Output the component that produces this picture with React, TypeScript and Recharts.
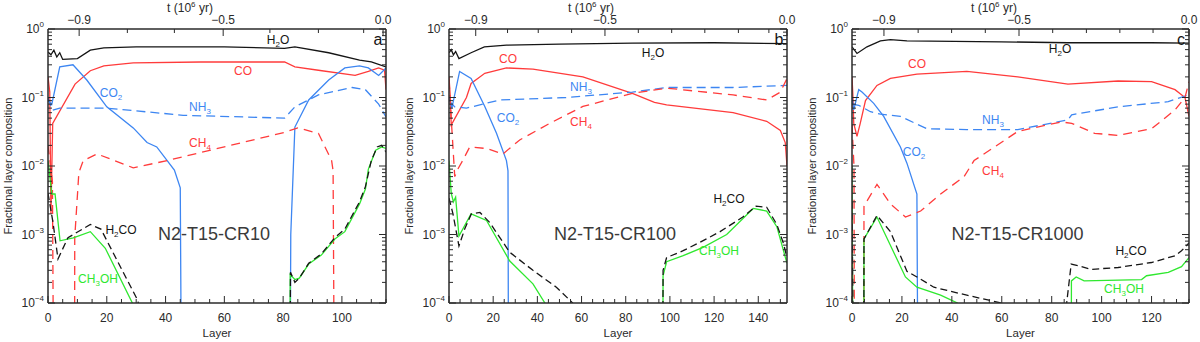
import React from 'react';
import { LineChart, Line, XAxis, YAxis } from 'recharts';

type Pt = [number, number | null];

// value used where a curve falls off the bottom of the plot (below 1e-4)
const FLOOR = 1e-6;

// ---- panel a: N2-T15-CR10 ----
const A_H2O: Pt[] = [[0, 0.46], [1, 0.42], [2, 0.49], [3, 0.39], [4, 0.45], [5, 0.36], [10, 0.37], [14.4, 0.49], [19, 0.53], [30, 0.55], [60, 0.55], [80.5, 0.52], [84, 0.55], [95.5, 0.45], [106, 0.35], [110, 0.33], [115, 0.28]];
const A_CO: Pt[] = [[0, 0.2], [0.6, 0.12], [1, 0.002], [1.6, 0.042], [9.2, 0.157], [14.4, 0.246], [19, 0.29], [29, 0.32], [52, 0.33], [80.5, 0.33], [84, 0.28], [92, 0.25], [104.5, 0.21], [109, 0.24], [112.5, 0.27], [114.5, 0.25], [115, 0.13]];
const A_CO2: Pt[] = [[0, 0.09], [1.3, 0.08], [4, 0.28], [8.5, 0.3], [13.2, 0.18], [20, 0.073], [29, 0.036], [33.7, 0.022], [37, 0.019], [43, 0.0087], [45, 0.0048], [45.5, FLOOR], [46, null], [82.3, FLOOR], [82.6, 0.001], [84, 0.037], [88.7, 0.092], [95.5, 0.18], [101, 0.27], [106, 0.29], [109, 0.27], [112.5, 0.21], [115, 0.27]];
const A_NH3: Pt[] = [[0, 0.1], [1.5, 0.065], [4, 0.07], [20, 0.07], [46, 0.055], [80.5, 0.05], [84, 0.073], [92, 0.109], [103.5, 0.14], [108, 0.13], [112.5, 0.08], [115, 0.052]];
const A_CH4: Pt[] = [[0, 0.02], [1.5, 0.006], [2, FLOOR], [5, null], [9, FLOOR], [9.1, 0.0009], [10.5, 0.008], [12, 0.012], [16.7, 0.015], [29, 0.0094], [40.6, 0.012], [80.5, 0.031], [85, 0.036], [92, 0.03], [96.5, 0.012], [97, 0.0085], [97.5, FLOOR]];
const A_CH3OH: Pt[] = [[0, 0.012], [1.3, 0.0039], [2.4, 0.0039], [4.1, 0.00081], [8.6, 0.00089], [14.4, 0.0011], [19.5, 0.00063], [28.7, 1e-4], [31, 6e-5], [32, null], [82.3, FLOOR], [82.4, 0.00026], [84, 0.00022], [85.5, 0.00023], [88.7, 0.00037], [93, 0.0005], [97.6, 0.00086], [101, 0.0011], [106, 0.0028], [108, 0.0046], [109, 0.009], [111.5, 0.017], [113.5, 0.019], [115, 0.018]];
const A_H2CO: Pt[] = [[0, 0.004], [1.7, 0.0015], [3.4, 0.00044], [6.8, 0.0009], [14.4, 0.0014], [18, 0.0012], [30.5, 1.1e-4], [32, 6e-5], [33, null], [82.3, FLOOR], [82.5, 0.00028], [84, 0.0002], [85.5, 0.00023], [88.7, 0.00038], [93, 0.00052], [97.6, 0.0009], [101, 0.0012], [106, 0.003], [108, 0.005], [110, 0.012], [112, 0.019], [113.5, 0.02], [115, 0.016]];

// ---- panel b: N2-T15-CR100 ----
const B_H2O: Pt[] = [[0, 0.45], [1, 0.5], [2, 0.42], [3, 0.47], [4.5, 0.37], [10, 0.45], [16, 0.55], [26, 0.58], [50, 0.6], [83, 0.62], [120, 0.63], [153, 0.61]];
const B_CO: Pt[] = [[0, 0.2], [0.6, 0.1], [1, 0.04], [1.8, 0.044], [7.9, 0.1], [10, 0.16], [16.2, 0.226], [26, 0.27], [38, 0.26], [60.6, 0.2], [83, 0.115], [93, 0.085], [98.5, 0.078], [128.6, 0.06], [143.8, 0.045], [150, 0.033], [152.2, 0.022], [153, 0.01]];
const B_CO2: Pt[] = [[0, 0.1], [1.3, 0.07], [4.8, 0.24], [10, 0.19], [16.2, 0.074], [21.5, 0.03], [26, 0.012], [26.7, 0.0085], [27, FLOOR]];
const B_NH3: Pt[] = [[0, 0.09], [2.6, 0.073], [7.9, 0.07], [23, 0.092], [53, 0.1], [83, 0.12], [98.5, 0.14], [128.6, 0.14], [153, 0.15]];
const B_CH4: Pt[] = [[0, 0.18], [1, 0.05], [2.6, 0.007], [4, 0.009], [6.2, 0.012], [9.4, 0.019], [17, 0.018], [24.4, 0.015], [32, 0.024], [45.6, 0.042], [60.6, 0.074], [83, 0.115], [98.5, 0.137], [128.6, 0.109], [143.8, 0.092], [150, 0.12], [153, 0.19]];
const B_CH3OH: Pt[] = [[0, 0.012], [1, 0.004], [2, 0.003], [3, 0.0035], [4.5, 0.00095], [10, 0.002], [17, 0.0016], [27.5, 0.00041], [38, 0.00019], [43.4, 1e-4], [45, 7e-5], [46, null], [96.7, FLOOR], [96.9, 0.00025], [98.5, 0.0004], [106, 0.00049], [115, 0.00065], [125.7, 0.001], [137.7, 0.0024], [143.8, 0.0022], [148.4, 0.0013], [153, 0.00038]];
const B_H2CO: Pt[] = [[0, 0.0034], [1.8, 0.002], [4.5, 0.00068], [7.1, 0.0012], [10.1, 0.002], [14, 0.0021], [18.4, 0.0015], [27.5, 0.00055], [38, 0.0003], [48.6, 0.00017], [56, 1e-4], [57, 8e-5], [58, null], [96.7, FLOOR], [96.9, 0.0003], [98.5, 0.00046], [106, 0.00058], [113.6, 0.00077], [122.7, 0.0011], [133, 0.0018], [139, 0.0026], [143.8, 0.0025], [148.4, 0.0014], [151.4, 0.00074], [153, 0.00046]];

// ---- panel c: N2-T15-CR1000 ----
const C_H2O: Pt[] = [[0, 0.55], [2, 0.44], [6, 0.55], [11.4, 0.67], [15.4, 0.7], [22, 0.67], [59.7, 0.65], [86.5, 0.63], [120, 0.63], [135, 0.62]];
const C_CO: Pt[] = [[0, 0.2], [0.4, 0.1], [0.7, 0.042], [2, 0.027], [3.3, 0.042], [5.4, 0.09], [10, 0.15], [15.4, 0.19], [26, 0.22], [46, 0.24], [66.4, 0.2], [86.5, 0.157], [106.6, 0.174], [120, 0.17], [129.4, 0.13], [133.4, 0.1], [135, 0.053]];
const C_CO2: Pt[] = [[0, 0.1], [0.7, 0.066], [2.7, 0.13], [4, 0.12], [8.7, 0.082], [12.7, 0.053], [19.4, 0.019], [22, 0.011], [26, 0.0039], [26.5, FLOOR]];
const C_NH3: Pt[] = [[0, 0.08], [2.7, 0.077], [7.4, 0.062], [11.4, 0.057], [19.4, 0.053], [30, 0.035], [46, 0.034], [66.4, 0.034], [86.5, 0.047], [88, 0.056], [106.6, 0.073], [126.7, 0.087], [135, 0.11]];
const C_CH4: Pt[] = [[0, 0.04], [0.8, 0.01], [1, FLOOR], [3, null], [4.7, FLOOR], [4.8, 0.0026], [10, 0.0054], [15.4, 0.0028], [21.4, 0.0018], [27.5, 0.0022], [35.5, 0.0039], [44.9, 0.007], [48.9, 0.012], [66.4, 0.032], [83.8, 0.044], [88, 0.042], [97.2, 0.03], [106.6, 0.028], [120, 0.035], [129.4, 0.066], [133.4, 0.1], [135, 0.17]];
const C_CH3OH: Pt[] = [[0, 0.01], [0.5, FLOOR], [3, null], [4.7, FLOOR], [4.8, 0.00086], [10, 0.0018], [21.4, 0.00024], [26, 0.00017], [35.5, 0.00013], [42.2, 1e-4], [44, 7e-5], [45, null], [87.8, FLOOR], [87.9, 0.00021], [89.8, 0.00024], [93, 0.00021], [116, 0.00022], [118, 0.00025], [126.7, 0.00028], [132, 0.00034], [135, 0.00046]];
const C_H2CO: Pt[] = [[0, 0.003], [0.8, FLOOR], [3, null], [4.7, FLOOR], [4.8, 0.00086], [10, 0.0019], [15.4, 0.0011], [22, 0.00029], [26, 0.00024], [32.8, 0.00017], [46, 0.00013], [59.7, 1e-4], [61, 9e-5], [62, null], [84, FLOOR], [86, 1e-4], [87.8, 0.00037], [90.5, 0.00035], [95.9, 0.00031], [106.6, 0.00033], [120, 0.00039], [129.4, 0.00049], [132, 0.00058], [135, 0.00075]];

// axes
const X_MAX = [115, 153, 135];
const TOP_LABELS = ['\u22120.9', '\u22120.5', '0.0'];
const A_TOP_MAJOR = [10.6, 59.6, 114];
const A_TOP_MINOR = [27, 43, 75.5, 92, 107.4];
const B_TOP_MAJOR = [12.1, 70.6, 153];
const B_TOP_MINOR = [26.5, 40.4, 55.5, 85.7, 100.8, 115.8, 131, 144.8];
const C_TOP_MAJOR = [12.8, 66.9, 135];
const C_TOP_MINOR = [26.5, 39.9, 53.4, 80.4, 93.9, 107.3, 120.6];
const TITLES = ['N2-T15-CR10', 'N2-T15-CR100', 'N2-T15-CR1000'];
const LETTERS = ['a', 'b', 'c'];

const BLACK = '#151515';
const RED = '#ff3b3b';
const BLUE = '#3d86f2';
const GREEN = '#2fe82f';
const AXIS = '#2a2a2a';
const TXT = '#2a2a2a';
const FONT = '"Liberation Sans", Arial, sans-serif';

const SERIES = [
  { name: 'H2O', color: BLACK, dash: undefined },
  { name: 'CO', color: RED, dash: undefined },
  { name: 'CO2', color: BLUE, dash: undefined },
  { name: 'NH3', color: BLUE, dash: '9 5' },
  { name: 'CH4', color: RED, dash: '9 6' },
  { name: 'CH3OH', color: GREEN, dash: undefined },
  { name: 'H2CO', color: BLACK, dash: '7 4' },
];

const PANEL_SERIES = [
  [A_H2O, A_CO, A_CO2, A_NH3, A_CH4, A_CH3OH, A_H2CO],
  [B_H2O, B_CO, B_CO2, B_NH3, B_CH4, B_CH3OH, B_H2CO],
  [C_H2O, C_CO, C_CO2, C_NH3, C_CH4, C_CH3OH, C_H2CO],
];
const TOP_MAJOR = [A_TOP_MAJOR, B_TOP_MAJOR, C_TOP_MAJOR];
const TOP_MINOR = [A_TOP_MINOR, B_TOP_MINOR, C_TOP_MINOR];

// layout (pixels)
const CHART_LEFT = [0, 401, 804];
const PLOT_W = [338, 338, 337];
const Y_W = 48;
const R_W = 2;
const TOP_H = 29;
const BOT_H = 39;
const H = 342;

const Y_TICKS = [-4, -3, -2, -1]
  .flatMap((e) => [1, 2, 3, 4, 5, 6, 7, 8, 9].map((m) => m * Math.pow(10, e)))
  .concat([1]);

const isDecade = (v: number) => {
  const l = Math.log10(v);
  return Math.abs(l - Math.round(l)) < 1e-6;
};

const LeftTick = (p: any) => {
  const { x, y, payload } = p;
  const v = payload.value;
  const major = isDecade(v);
  const e = Math.round(Math.log10(v));
  return (
    <g>
      <line x1={x} y1={y} x2={x + (major ? 7 : 4)} y2={y} stroke={AXIS} />
      {major && (
        <text x={x - 4} y={y + 4} textAnchor="end" fontSize={12} fill={TXT} fontFamily={FONT}>
          10<tspan dy={-6} fontSize={8}>{e === 0 ? '0' : '\u2212' + -e}</tspan>
        </text>
      )}
    </g>
  );
};

const RightTick = (p: any) => {
  const { x, y, payload } = p;
  const major = isDecade(payload.value);
  return <line x1={x} y1={y} x2={x - (major ? 7 : 4)} y2={y} stroke={AXIS} />;
};

const BottomTick = (p: any) => {
  const { x, y, payload } = p;
  const v = payload.value;
  const major = v % 20 === 0;
  return (
    <g>
      <line x1={x} y1={y} x2={x} y2={y - (major ? 7 : 4)} stroke={AXIS} />
      {major && (
        <text x={x} y={y + 19} textAnchor="middle" fontSize={12} fill={TXT} fontFamily={FONT}>
          {v}
        </text>
      )}
    </g>
  );
};

const makeTopTick = (majors: number[]) => (p: any) => {
  const { x, y, payload } = p;
  const i = majors.indexOf(payload.value);
  const major = i >= 0;
  return (
    <g>
      <line x1={x} y1={y} x2={x} y2={y + (major ? 7 : 4)} stroke={AXIS} />
      {major && (
        <text x={x} y={y - 5} textAnchor="middle" fontSize={12} fill={TXT} fontFamily={FONT}>
          {TOP_LABELS[i]}
        </text>
      )}
    </g>
  );
};

// curve annotations: pixel placement of each label (centre x, baseline y)
const NOTES = [
  [
    { t: 'H2O', x: 278, y: 44, c: BLACK },
    { t: 'CO', x: 243, y: 75, c: RED },
    { t: 'CO2', x: 111, y: 97, c: BLUE },
    { t: 'NH3', x: 200, y: 111, c: BLUE },
    { t: 'CH4', x: 200, y: 147, c: RED },
    { t: 'H2CO', x: 121, y: 234, c: BLACK },
    { t: 'CH3OH', x: 98, y: 283, c: GREEN },
  ],
  [
    { t: 'H2O', x: 653, y: 57, c: BLACK },
    { t: 'CO', x: 508, y: 63, c: RED },
    { t: 'NH3', x: 581, y: 91, c: BLUE },
    { t: 'CO2', x: 508, y: 122, c: BLUE },
    { t: 'CH4', x: 581, y: 126, c: RED },
    { t: 'H2CO', x: 729, y: 203, c: BLACK },
    { t: 'CH3OH', x: 719, y: 255, c: GREEN },
  ],
  [
    { t: 'H2O', x: 1060, y: 53, c: BLACK },
    { t: 'CO', x: 917, y: 68, c: RED },
    { t: 'NH3', x: 993, y: 124, c: BLUE },
    { t: 'CO2', x: 914, y: 156, c: BLUE },
    { t: 'CH4', x: 993, y: 175, c: RED },
    { t: 'H2CO', x: 1131, y: 255, c: BLACK },
    { t: 'CH3OH', x: 1124, y: 293, c: GREEN },
  ],
];

const Chem = ({ t, x, y, c }: { t: string; x: number; y: number; c: string }) => {
  const parts = t.match(/[A-Za-z]+|\d+/g) || [];
  let sub = false;
  return (
    <text x={x} y={y} textAnchor="middle" fontSize={12} fill={c} fontFamily={FONT}>
      {parts.map((s, i) => {
        const isNum = /\d/.test(s);
        const dy = isNum ? 3 : sub ? -3 : 0;
        sub = isNum;
        return (
          <tspan key={i} dy={dy} fontSize={isNum ? 8 : 12}>
            {s}
          </tspan>
        );
      })}
    </text>
  );
};

function Panel({ idx }: { idx: number }) {
  const w = Y_W + PLOT_W[idx] + R_W + (idx === 2 ? 9 : 10);
  const xmax = X_MAX[idx];
  const xTicks: number[] = [];
  for (let v = 0; v <= xmax; v += 5) xTicks.push(v);
  const topTicks = [...TOP_MAJOR[idx], ...TOP_MINOR[idx]].sort((a, b) => a - b);
  const TopTick = makeTopTick(TOP_MAJOR[idx]);
  return (
    <div style={{ position: 'absolute', left: CHART_LEFT[idx], top: 0 }}>
      <LineChart
        width={w}
        height={H}
        margin={{ top: 0, right: w - Y_W - PLOT_W[idx] - R_W, bottom: 0, left: 0 }}
      >
        <XAxis
          dataKey="x"
          type="number"
          domain={[0, xmax]}
          allowDataOverflow
          ticks={xTicks}
          interval={0}
          height={BOT_H}
          tickSize={0}
          tickMargin={0}
          tick={BottomTick}
          axisLine={{ stroke: AXIS, strokeWidth: 1.5 }}
          tickLine={false}
        />
        <XAxis
          xAxisId="top"
          orientation="top"
          dataKey="x"
          type="number"
          domain={[0, xmax]}
          allowDataOverflow
          ticks={topTicks}
          interval={0}
          height={TOP_H}
          tickSize={0}
          tickMargin={0}
          tick={TopTick}
          axisLine={{ stroke: AXIS, strokeWidth: 1.5 }}
          tickLine={false}
        />
        <YAxis
          scale="log"
          type="number"
          domain={[1e-4, 1]}
          allowDataOverflow
          ticks={Y_TICKS}
          interval={0}
          width={Y_W}
          tickSize={0}
          tickMargin={0}
          tick={LeftTick}
          axisLine={{ stroke: AXIS, strokeWidth: 1.5 }}
          tickLine={false}
        />
        <YAxis
          yAxisId="right"
          orientation="right"
          scale="log"
          type="number"
          domain={[1e-4, 1]}
          allowDataOverflow
          ticks={Y_TICKS}
          interval={0}
          width={R_W}
          tickSize={0}
          tickMargin={0}
          tick={RightTick}
          axisLine={{ stroke: AXIS, strokeWidth: 1.5 }}
          tickLine={false}
        />
        {SERIES.map((s, i) => (
          <Line
            key={s.name}
            data={PANEL_SERIES[idx][i].map(([x, y]) => ({ x, y }))}
            dataKey="y"
            type="linear"
            stroke={s.color}
            strokeWidth={1.3}
            strokeDasharray={s.dash}
            dot={false}
            activeDot={false}
            connectNulls={false}
            isAnimationActive={false}
          />
        ))}
      </LineChart>
    </div>
  );
}

export default function App() {
  return (
    <div style={{ position: 'absolute', left: 0, top: 0, width: 1200, height: H, background: '#fff', overflow: 'hidden' }}>
      {[0, 1, 2].map((i) => (
        <Panel key={i} idx={i} />
      ))}
      <svg width={1200} height={H} style={{ position: 'absolute', left: 0, top: 0, pointerEvents: 'none' }}>
        {[0, 1, 2].map((i) => {
          const pl = CHART_LEFT[i] + Y_W;
          const pw = PLOT_W[i];
          const yx = pl - 36;
          return (
            <g key={i} fontFamily={FONT}>
              <text x={pl + 142} y={12} textAnchor="middle" fontSize={12} fill={TXT}>
                t (10<tspan dy={-5} fontSize={8}>6</tspan>
                <tspan dy={5}> yr)</tspan>
              </text>
              <text x={pl + pw / 2} y={337} textAnchor="middle" fontSize={11.5} fill={TXT}>
                Layer
              </text>
              <text
                x={yx}
                y={166}
                transform={`rotate(-90 ${yx} 166)`}
                textAnchor="middle"
                fontSize={11}
                fill={TXT}
              >
                Fractional layer composition
              </text>
              <text x={pl + pw / 2 - 3} y={240} textAnchor="middle" fontSize={18} fill="#3a3a3a">
                {TITLES[i]}
              </text>
              <text x={pl + pw - 8} y={45} textAnchor="middle" fontSize={16} fill={BLACK}>
                {LETTERS[i]}
              </text>
              {NOTES[i].map((n) => (
                <Chem key={n.t} {...n} />
              ))}
            </g>
          );
        })}
      </svg>
    </div>
  );
}
